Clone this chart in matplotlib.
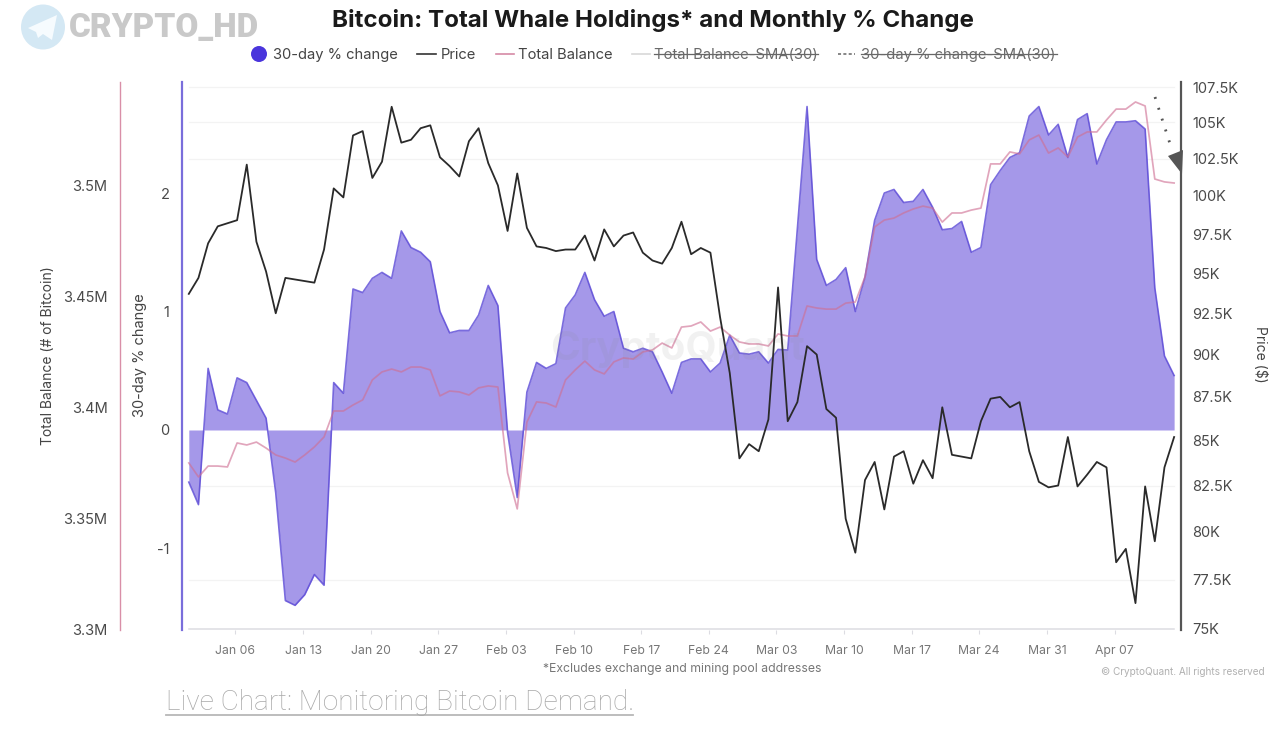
import matplotlib
matplotlib.use("Agg")
import matplotlib.pyplot as plt
import pandas as pd
from matplotlib.lines import Line2D
from matplotlib.patches import Ellipse, Polygon
from matplotlib.ticker import FixedLocator, FixedFormatter, NullLocator

W, H = 1280, 732
plt.rcParams['font.family'] = ['Inter', 'DejaVu Sans']

start_date = "2025-01-01"
pct_change = [-0.44,-0.63,0.52,0.17,0.135,0.44,0.40,0.25,0.10,-0.53,-1.44,-1.48,-1.39,-1.22,-1.31,0.40,0.31,
              1.19,1.16,1.28,1.33,1.28,1.68,1.54,1.50,1.42,1.00,0.82,0.84,0.84,0.97,1.22,1.05,-0.02,-0.57,
              0.32,0.57,0.52,0.56,1.03,1.14,1.33,1.10,0.96,1.00,0.69,0.66,0.69,0.66,0.49,0.31,0.57,0.60,
              0.60,0.49,0.565,0.80,0.65,0.64,0.66,0.565,0.68,0.675,1.70,2.73,1.44,1.22,1.27,1.37,1.00,1.29,
              1.77,2.00,2.03,1.92,1.93,2.03,1.88,1.69,1.70,1.76,1.50,1.54,2.07,2.19,2.30,2.34,2.65,2.73,
              2.49,2.58,2.30,2.62,2.67,2.245,2.45,2.60,2.60,2.61,2.54,1.20,0.625,0.46]
price_k = [93.7,94.7,96.9,98.0,98.2,98.4,102.1,97.0,95.1,92.5,94.7,94.6,94.5,94.4,96.5,100.5,99.9,104.1,104.4,
           101.2,102.3,106.1,103.6,103.8,104.6,104.8,102.6,102.0,101.3,103.7,104.6,102.2,100.7,97.7,101.5,97.9,
           96.7,96.6,96.4,96.5,96.5,97.4,95.8,97.8,96.7,97.4,97.6,96.3,95.8,95.6,96.6,98.3,96.2,96.6,96.3,92.25,
           88.9,84.0,84.8,84.4,86.2,94.1,86.1,87.2,90.5,90.0,86.8,86.3,80.7,78.9,82.8,83.8,81.2,84.1,84.4,82.6,
           83.9,82.9,86.9,84.2,84.1,84.0,86.1,87.4,87.5,86.9,87.2,84.4,82.7,82.4,82.5,85.2,82.45,83.1,83.8,83.5,
           78.4,79.1,76.3,82.45,79.5,83.5,85.2]
balance_m = [3.3748,3.3685,3.3734,3.3734,3.3730,3.3838,3.3829,3.3842,3.3815,3.3784,3.3770,3.3752,3.3784,3.3820,
             3.3865,3.3982,3.3982,3.4009,3.4032,3.4122,3.4158,3.4171,3.4158,3.4180,3.4180,3.4167,3.4050,3.4072,
             3.4068,3.4054,3.4086,3.4095,3.4090,3.3703,3.3541,3.3932,3.4023,3.4018,3.4000,3.4122,3.4167,3.4207,
             3.4167,3.4149,3.4203,3.4221,3.4216,3.4248,3.4257,3.4288,3.4266,3.4360,3.4365,3.4383,3.4342,3.4360,
             3.4324,3.4293,3.4284,3.4284,3.4275,3.4329,3.4320,3.4320,3.4455,3.4446,3.4441,3.4441,3.4468,3.4473,
             3.4586,3.4811,3.4842,3.4851,3.4874,3.4892,3.4905,3.4896,3.4833,3.4874,3.4874,3.4887,3.4896,3.5095,
             3.5095,3.5149,3.5140,3.5203,3.5225,3.5144,3.5167,3.5126,3.5216,3.5239,3.5239,3.5293,3.5342,3.5342,
             3.5374,3.5356,3.5027,3.5014,3.5009]
x_tick_dates = ["2025-01-06","2025-01-13","2025-01-20","2025-01-27","2025-02-03","2025-02-10","2025-02-17",
                "2025-02-24","2025-03-03","2025-03-10","2025-03-17","2025-03-24","2025-03-31","2025-04-07"]
x_tick_labels = ["Jan 06","Jan 13","Jan 20","Jan 27","Feb 03","Feb 10","Feb 17","Feb 24","Mar 03","Mar 10",
                 "Mar 17","Mar 24","Mar 31","Apr 07"]
pct_ticks = [-1, 0, 1, 2]
pct_tick_labels = ["-1", "0", "1", "2"]
balance_ticks = [3.30, 3.35, 3.40, 3.45, 3.50]
balance_tick_labels = ["3.3M", "3.35M", "3.4M", "3.45M", "3.5M"]
price_ticks = [75, 77.5, 80, 82.5, 85, 87.5, 90, 92.5, 95, 97.5, 100, 102.5, 105, 107.5]
price_tick_labels = ["75K","77.5K","80K","82.5K","85K","87.5K","90K","92.5K","95K","97.5K","100K","102.5K","105K","107.5K"]
grid_prices = [77.5, 82.5, 102.5, 105, 107.5]

dates = pd.date_range(start_date, periods=len(pct_change), freq="D")

PURPLE_LINE = "#5a48d6"
PURPLE_FILL = "#a598e9"
PINK = "#cf6f93"
TICK = "#4a4a4a"

fig = plt.figure(figsize=(W / 100, H / 100), dpi=100, facecolor="white")
def fx(x): return x / W
def fy(y): return 1 - y / H

L, R, T, B = 182, 1181, 82, 630
ax = fig.add_axes([fx(L), fy(B), (R - L) / W, (B - T) / H])
ax_grid = ax.twinx()
ax_bal = ax.twinx()
ax_price = ax.twinx()
ax_grid.set_zorder(0)
ax.set_zorder(1)
ax_bal.set_zorder(2)
ax_price.set_zorder(3)

px_per_day = 9.66
x0_px = 188.8
left = dates[0] - pd.Timedelta(days=(x0_px - L) / px_per_day)
right = left + pd.Timedelta(days=(R - L) / px_per_day)
ax.set_xlim(left, right)

ax.set_ylim(-1.688, 2.937)
ax_bal.set_ylim(3.29955, 3.5464)
for a in (ax_grid, ax_price):
    a.set_yscale("log")
    a.set_ylim(74.95, 107.86)

for a in (ax, ax_grid, ax_bal, ax_price):
    a.patch.set_visible(False)
    for s in a.spines.values():
        s.set_visible(False)

# grid sits under the area, on its own price-scaled axes
ax_grid.yaxis.set_major_locator(NullLocator())
ax_grid.yaxis.set_minor_locator(NullLocator())
for t in grid_prices:
    ax_grid.plot([dates[0], dates[-1]], [t, t], color="#f3f3f3", lw=0.9)
ax_grid.plot([dates[0], dates[-1]], [75, 75], color="#dcdce2", lw=1.1)

# % change
ax.fill_between(dates, 0, pct_change, color=PURPLE_FILL, lw=0, zorder=1)
ax.plot(dates, pct_change, color=PURPLE_LINE, lw=1.2, alpha=0.8, zorder=2)

# balance
ax_bal.plot(dates, balance_m, color=PINK, lw=1.25, alpha=0.62, zorder=3)

# price
ax_price.plot(dates, price_k, color="#2a2a2a", lw=1.3, zorder=4)

# axes
ax.spines["left"].set_visible(True)
ax.spines["left"].set_color("#7a6edb")
ax.spines["left"].set_linewidth(1.6)
ax.yaxis.set_major_locator(FixedLocator(pct_ticks))
ax.yaxis.set_major_formatter(FixedFormatter(pct_tick_labels))
ax.yaxis.set_minor_locator(NullLocator())
ax.tick_params(axis="y", length=0, pad=9, labelsize=10.5, labelcolor=TICK)

ax_bal.yaxis.set_label_position("left")
ax_bal.yaxis.tick_left()
ax_bal.spines["left"].set_visible(True)
ax_bal.spines["left"].set_position(("outward", 62 * 72 / 100))
ax_bal.spines["left"].set_color("#d98fa8")
ax_bal.spines["left"].set_linewidth(1.0)
ax_bal.yaxis.set_major_locator(FixedLocator(balance_ticks))
ax_bal.yaxis.set_major_formatter(FixedFormatter(balance_tick_labels))
ax_bal.tick_params(axis="y", length=0, pad=9, labelsize=10.5, labelcolor=TICK)

ax_price.spines["right"].set_visible(True)
ax_price.spines["right"].set_color("#555555")
ax_price.spines["right"].set_linewidth(1.6)
ax_price.yaxis.set_major_locator(FixedLocator(price_ticks))
ax_price.yaxis.set_major_formatter(FixedFormatter(price_tick_labels))
ax_price.yaxis.set_minor_locator(NullLocator())
ax_price.tick_params(axis="y", which="both", length=0, pad=8, labelsize=10.5, labelcolor=TICK)

ax.set_xticks(pd.to_datetime(x_tick_dates) - pd.Timedelta(hours=4))
ax.set_xticklabels(x_tick_labels)
ax.tick_params(axis="x", length=3, width=0.8, color="#dcdce2", pad=8, labelsize=8.8, labelcolor="#777777")

# figure-level texts
def text(x, y, s, **kw):
    kw.setdefault("va", "center")
    return fig.text(fx(x), fy(y), s, **kw)

text(653, 20, "Bitcoin: Total Whale Holdings* and Monthly % Change", ha="center", fontsize=17.35,
     fontweight="bold", color="#1a1a1a")
text(48, 356, "Total Balance (# of Bitcoin)", rotation=90, ha="center", fontsize=10, color="#444444")
text(140, 355, "30-day % change", rotation=90, ha="center", fontsize=10.5, color="#444444")
text(1260, 354, "Price ($)", rotation=270, ha="center", fontsize=10, color="#444444")
text(682, 669, "*Excludes exchange and mining pool addresses", ha="center", fontsize=8.8, color="#777777")
text(1265, 672, "© CryptoQuant. All rights reserved", ha="right", fontsize=7.2, color="#b0b0b0")

# legend
def hline(x0, x1, y, **kw):
    fig.add_artist(Line2D([fx(x0), fx(x1)], [fy(y), fy(y)], transform=fig.transFigure, **kw))

LY = 55
fig.add_artist(Ellipse((fx(259), fy(LY - 1)), 16 / W, 16 / H, transform=fig.transFigure, color="#4a35dc", lw=0))
text(273, LY, "30-day % change", fontsize=10.6, color="#444444")
hline(417, 436, LY - 1, color="#333333", lw=1.2)
text(441, LY, "Price", fontsize=10.6, color="#444444")
hline(496, 514, LY - 1, color="#d68aa5", lw=1.2)
text(518, LY, "Total Balance", fontsize=10.6, color="#444444")
hline(632, 650, LY - 1, color="#d8d8d8", lw=1.2)
text(654, LY, "Total Balance-SMA(30)", fontsize=10.65, color="#6a6a6a")
hline(654, 818, LY - 1, color="#666666", lw=0.9)
hline(838, 855, LY - 1, color="#666666", lw=1.1, ls=(0, (2, 1.5)))
text(861, LY, "30-day % change-SMA(30)", fontsize=10.65, color="#6a6a6a")
hline(861, 1057, LY - 1, color="#666666", lw=0.9)

# annotation arrow
fig.add_artist(Line2D([fx(1155), fx(1172)], [fy(97), fy(150)], transform=fig.transFigure,
                      color="#555555", lw=2.0, ls=(0, (0.7, 3.4))))
fig.add_artist(Polygon([(fx(1168), fy(156)), (fx(1183), fy(150)), (fx(1182), fy(174))],
                       closed=True, transform=fig.transFigure, color="#555555", lw=0))

# watermark, logo, link
text(678, 350, "CryptoQuant", ha="center", fontsize=29, fontweight="bold", color="#888888", alpha=0.11)
fig.add_artist(Ellipse((fx(43), fy(27)), 44 / W, 45 / H, transform=fig.transFigure, color="#d4e8f4", lw=0))
fig.add_artist(Polygon([(fx(28), fy(28)), (fx(57), fy(15)), (fx(52), fy(40)), (fx(43), fy(34)), (fx(38), fy(38)), (fx(36), fy(32))],
                       closed=True, transform=fig.transFigure, color="#f6fbfe", lw=0))
text(69, 28, "CRYPTO_HD", fontsize=24, fontweight="black", color="#c9c9c9", family=["Roboto", "DejaVu Sans"])
text(166, 702, "Live Chart: Monitoring Bitcoin Demand.", fontsize=20.2, color="#a8a8a8",
     family=["Roboto", "DejaVu Sans"], fontweight="light")
hline(166, 633, 715, color="#b8b8b8", lw=1.3)

fig.savefig("out.png", dpi=100, facecolor="white")
